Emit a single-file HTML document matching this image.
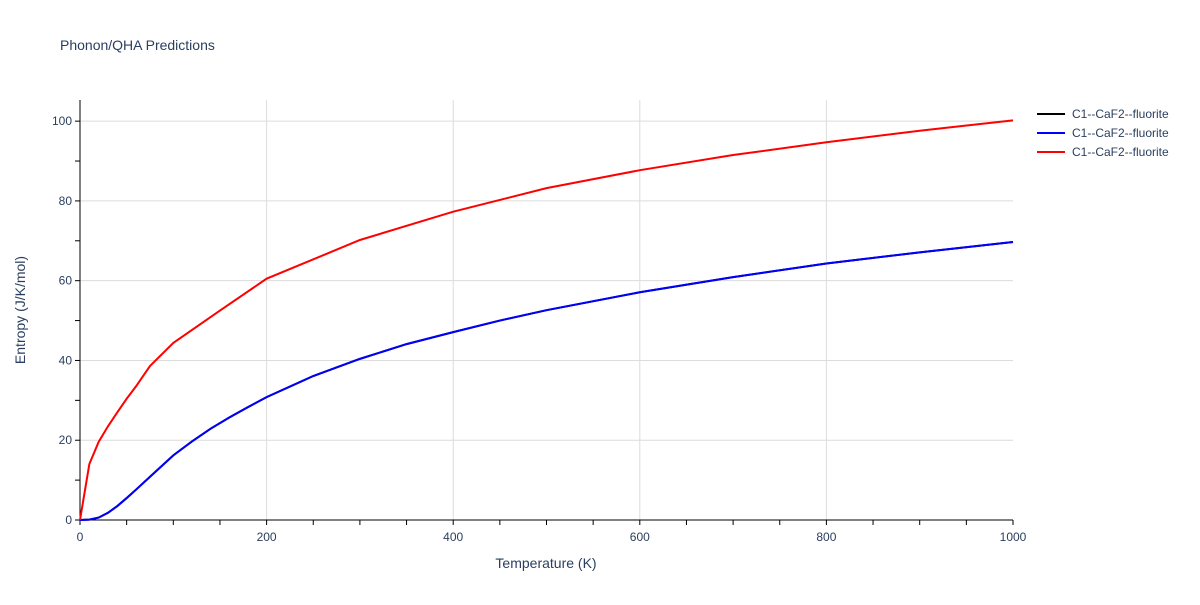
<!DOCTYPE html>
<html><head><meta charset="utf-8"><style>
body{margin:0;background:#fff;font-family:"Liberation Sans",sans-serif;}
text{font-family:"Liberation Sans",sans-serif;fill:#2a3f5f;}
</style></head><body>
<svg id="chart" width="1200" height="600" xmlns="http://www.w3.org/2000/svg">
<rect width="1200" height="600" fill="#fff"/>
<text x="60" y="50" font-size="14">Phonon/QHA Predictions</text>
<g id="grid"></g><g id="axes"></g><g id="series"></g><g id="legend"></g>
<text x="546" y="568" font-size="14" text-anchor="middle">Temperature (K)</text>
<text transform="translate(25,310) rotate(-90)" font-size="14" text-anchor="middle">Entropy (J/K/mol)</text>
</svg>
<script>
const temps=[0,10,20,30,40,50,60,80,100,120,140,160,180,200,250,300,350,400,450,500,600,700,800,900,1000];
const blueS=[0,0.1,0.6,1.8,3.5,5.5,7.6,11.9,16.2,19.7,22.9,25.7,28.3,30.8,36.1,40.4,44.1,47.1,50,52.6,57.1,60.9,64.3,67.1,69.7];
const redT=[0,10,20,30,40,50,60,75,100,150,200,300,400,500,600,700,800,900,1000];
const redS=[0,14,19.6,23.5,27,30.4,33.5,38.6,44.4,52.5,60.5,70.2,77.3,83.2,87.7,91.5,94.7,97.6,100.2];
const xTicks=[0,200,400,600,800,1000];
const yTicks=[0,20,40,60,80,100];
const legendLabels=["C1--CaF2--fluorite","C1--CaF2--fluorite","C1--CaF2--fluorite"];
const legendColors=["#000000","#0000ff","#ff0000"];
const X0=80,X1=1013,Y0=520,YT=100,YMAX=105.3;
const sx=v=>X0+(v/1000)*(X1-X0);
const sy=v=>Y0-(v/YMAX)*(Y0-YT);
const NS="http://www.w3.org/2000/svg";
function mk(tag,attrs,parent){const e=document.createElementNS(NS,tag);for(const k in attrs)e.setAttribute(k,attrs[k]);document.getElementById(parent).appendChild(e);return e;}
xTicks.forEach(t=>{
 if(t>0&&t<1000){const g=mk('line',{x1:sx(t),x2:sx(t),y1:YT,y2:Y0,stroke:'#dcdcdc'},'grid');
 
 }
 const l=mk('text',{x:sx(t),y:Y0+21,'font-size':12,'text-anchor':'middle'},'axes');l.textContent=t;
 
 
});
for(let t=0;t<=1000;t+=50){const k=mk('line',{x1:sx(t),x2:sx(t),y1:Y0,y2:Y0+5,stroke:'#000'},'axes');
 
 }
yTicks.forEach(t=>{
 if(t>0){const g=mk('line',{x1:X0,x2:X1,y1:sy(t),y2:sy(t),stroke:'#dcdcdc'},'grid');
 
 }
 const l=mk('text',{x:X0-8,y:sy(t)+4,'font-size':12,'text-anchor':'end'},'axes');l.textContent=t;
 
 
});
for(let t=0;t<=100;t+=10){const k=mk('line',{x1:X0-5,x2:X0,y1:sy(t),y2:sy(t),stroke:'#000'},'axes');
 
 }
const ax=mk('path',{d:`M${X0},${YT} V${Y0} H${X1}`,stroke:'#000',fill:'none','stroke-width':1},'axes');


function line(xs,ys,c,name){const p=mk('polyline',{points:xs.map((x,i)=>sx(x)+','+sy(ys[i])).join(' '),fill:'none',stroke:c,'stroke-width':2},'series');
 
 }
line(temps,blueS,'#000000','series-black');
line(temps,blueS,'#0000ff','series-blue');
line(redT,redS,'#ff0000','series-red');
legendLabels.forEach((lab,i)=>{
 const y=114+i*19;
 const l=mk('line',{x1:1037,x2:1065,y1:y,y2:y,stroke:legendColors[i],'stroke-width':2},'legend');
 
 
 const t=mk('text',{x:1072,y:y+4,'font-size':12},'legend');t.textContent=lab;
 
 
});
</script>
</body></html>
